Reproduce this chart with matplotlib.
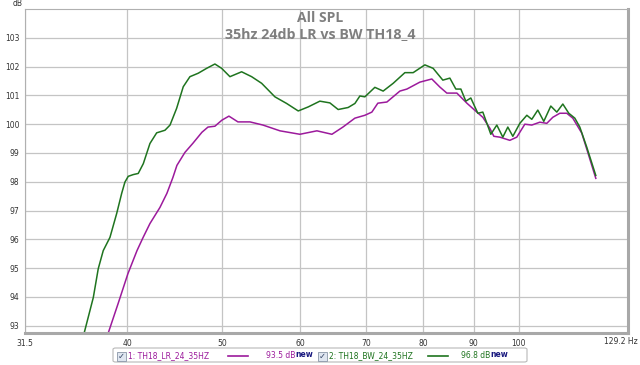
import matplotlib
matplotlib.use('Agg')
import matplotlib.pyplot as plt
from matplotlib.patches import FancyBboxPatch, Rectangle

plt.rcParams['font.family'] = 'DejaVu Sans'

# Dados (Hz, dB)
lr_freq = [38.25, 39.16, 40.08, 40.94, 41.52, 42.20, 43.20, 43.91, 44.53, 44.95,
           45.80, 46.67, 47.66, 48.34, 49.13, 49.94, 50.77, 51.85, 53.33, 54.98,
           57.21, 59.94, 62.38, 64.61, 66.29, 68.18, 69.79, 70.94, 71.94, 73.48,
           75.75, 77.00, 79.37, 81.63, 83.18, 84.55, 86.56, 88.61, 90.70, 91.98,
           93.50, 94.38, 95.72, 97.98, 99.59, 101.48, 103.15, 105.11, 106.84, 108.35,
           110.14, 111.95, 113.54, 115.95, 117.60, 119.82]
lr_db = [92.72, 93.76, 94.81, 95.61, 96.06, 96.55, 97.11, 97.60, 98.15, 98.57,
         99.02, 99.34, 99.72, 99.90, 99.93, 100.14, 100.28, 100.08, 100.08, 99.97,
         99.77, 99.65, 99.77, 99.65, 99.90, 100.21, 100.31, 100.42, 100.73, 100.77,
         101.15, 101.22, 101.46, 101.57, 101.29, 101.08, 101.08, 100.73, 100.42, 100.24,
         99.86, 99.58, 99.55, 99.44, 99.55, 100.00, 99.97, 100.07, 100.03, 100.24,
         100.38, 100.38, 100.21, 99.69, 99.02, 98.12]

bw_freq = [36.16, 36.96, 37.39, 37.83, 38.43, 39.04, 39.50, 39.80, 40.11, 40.58,
           41.06, 41.55, 42.20, 42.87, 43.71, 44.23, 44.92, 45.62, 46.34, 47.25,
           48.19, 49.13, 49.91, 50.89, 52.30, 53.54, 54.81, 56.54, 58.11, 59.71,
           61.12, 62.81, 64.30, 65.56, 67.11, 68.18, 68.98, 69.79, 71.44, 72.84,
           74.57, 76.64, 78.14, 80.31, 81.88, 83.76, 85.15, 86.35, 87.37, 88.39,
           89.43, 90.91, 91.98, 93.72, 95.04, 96.39, 97.52, 98.67, 100.30, 101.96,
           103.15, 104.61, 106.09, 107.84, 109.37, 110.92, 112.48, 114.08, 115.42, 117.32,
           119.82]
bw_db = [92.72, 93.98, 94.98, 95.61, 96.07, 96.90, 97.60, 97.99, 98.19, 98.25,
         98.29, 98.63, 99.33, 99.70, 99.79, 99.97, 100.55, 101.30, 101.65, 101.77,
         101.94, 102.09, 101.94, 101.65, 101.82, 101.65, 101.42, 100.95, 100.72, 100.46,
         100.60, 100.80, 100.74, 100.51, 100.58, 100.72, 100.98, 100.95, 101.28, 101.15,
         101.42, 101.79, 101.79, 102.06, 101.94, 101.53, 101.60, 101.22, 101.22, 100.80,
         100.91, 100.38, 100.42, 99.65, 99.97, 99.55, 99.90, 99.58, 100.03, 100.31,
         100.17, 100.49, 100.10, 100.63, 100.42, 100.70, 100.38, 100.21, 99.90, 99.20,
         98.22]

x_ticks = [31.5, 40, 50, 60, 70, 80, 90, 100]
x_labels = ['31.5', '40', '50', '60', '70', '80', '90', '100']
y_ticks = [93, 94, 95, 96, 97, 98, 99, 100, 101, 102, 103]

purple = '#9c1a9c'
green = '#1f741f'
grid_color = '#c4c4c4'

fig = plt.figure(figsize=(6.4, 3.65), dpi=100)
ax = fig.add_axes([25 / 640, 32 / 365, 603 / 640, 324 / 365])

ax.plot(lr_freq, lr_db, color=purple, linewidth=1.1, solid_joinstyle='round')
ax.plot(bw_freq, bw_db, color=green, linewidth=1.1, solid_joinstyle='round')

ax.set_xscale('log')
ax.set_xlim(31.5, 129.2)
ax.set_ylim(92.75, 104.0)
ax.minorticks_off()
ax.set_xticks(x_ticks)
ax.set_xticklabels(x_labels)
ax.set_yticks(y_ticks)
ax.set_yticklabels([str(v) for v in y_ticks])
ax.tick_params(length=0, labelsize=5.5, labelcolor='#333333', pad=4)
ax.grid(True, color=grid_color, linewidth=0.9)
ax.set_axisbelow(True)

for side in ['left', 'top']:
    ax.spines[side].set_color('#b0b0b0')
    ax.spines[side].set_linewidth(0.8)
for side in ['right', 'bottom']:
    ax.spines[side].set_color('#a8a8a8')
    ax.spines[side].set_linewidth(2.2)

# Rótulos extras
ax.text(1.0166, -0.026, '129.2 Hz', transform=ax.transAxes, ha='right', va='center',
        fontsize=5.5, color='#333333')
fig.text(18 / 640, 1 - 4 / 365, 'dB', ha='center', va='center', fontsize=5.5, color='#333333')

# Título
fig.text(0.5, 1 - 18 / 365, 'All SPL', ha='center', va='center', fontsize=10,
         fontweight='bold', color='#7f7f7f', family='Open Sans')
fig.text(0.5, 1 - 34 / 365, '35hz 24db LR vs BW TH18_4', ha='center', va='center',
         fontsize=10.3, fontweight='bold', color='#7f7f7f', family='Open Sans')

# Legenda desenhada à mão
box = FancyBboxPatch((113 / 640, 3 / 365), 414 / 640, 14 / 365,
                     boxstyle='round,pad=0,rounding_size=0.004', transform=fig.transFigure,
                     facecolor='white', edgecolor='#b8b8b8', linewidth=0.8)
fig.patches.append(box)

ly = 1 - 356 / 365
entries = [
    (117, '1: TH18_LR_24_35HZ', purple, 228, 266, '93.5 dB'),
    (318, '2: TH18_BW_24_35HZ', green, 428, 461, '96.8 dB'),
]
for cx, name, col, lx, vx, val in entries:
    fig.patches.append(Rectangle((cx / 640, ly - 4.5 / 365), 9 / 640, 9 / 365,
                                 transform=fig.transFigure, facecolor='#dfe6f0',
                                 edgecolor='#8a96a8', linewidth=0.6))
    fig.text((cx + 4.5) / 640, ly, '\u2713', ha='center', va='center', fontsize=6,
             color='#334466', fontweight='bold')
    fig.text((cx + 11) / 640, ly, name, ha='left', va='center', fontsize=5.5, color=col)
    fig.lines.append(plt.Line2D([lx / 640, (lx + 20) / 640], [ly, ly],
                                transform=fig.transFigure, color=col, linewidth=1.2))
    fig.text(vx / 640, ly, val, ha='left', va='center', fontsize=5.5, color=col)
    fig.text((vx + 29.5) / 640, ly + 1.5 / 365, 'new', ha='left', va='center',
             fontsize=5.5, color='#1a1a80', fontweight='bold')

fig.savefig('out.png', dpi=100, facecolor='white')
